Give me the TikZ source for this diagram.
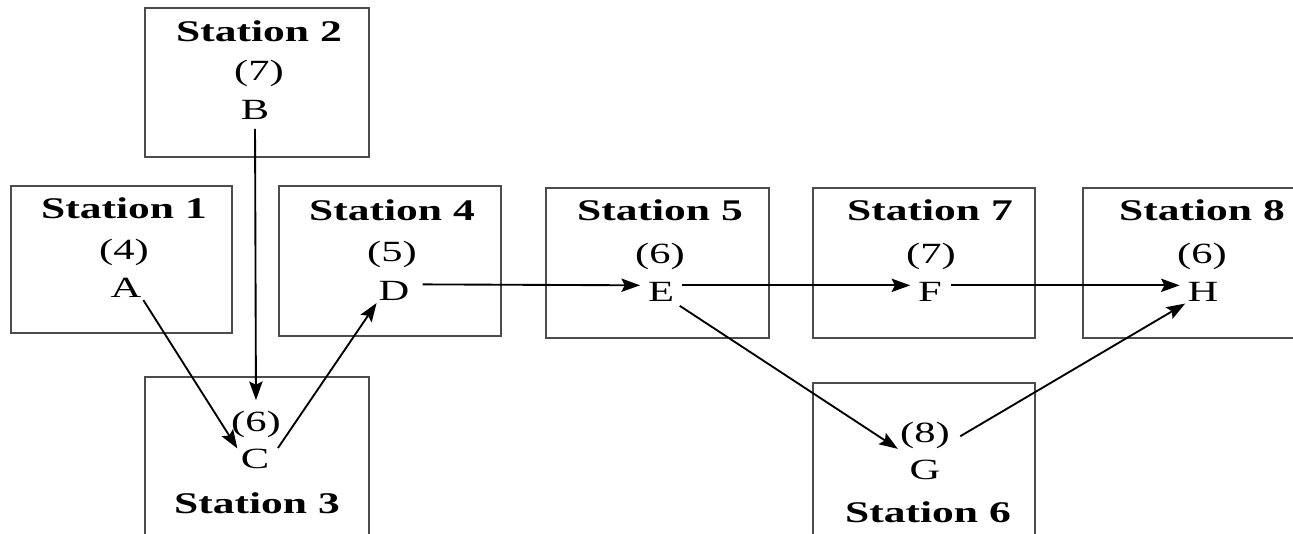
\documentclass[tikz,border=0pt]{standalone}
\usepackage{fontspec}
\setmainfont[FakeStretch=1.45]{Liberation Serif}
\usetikzlibrary{arrows.meta}

\begin{document}
\begin{tikzpicture}[x=0.75pt,y=0.75pt,yscale=-1,xscale=1,
  box/.style={draw=black!70, line width=2pt},
  title/.style={inner sep=0.75pt, font=\fontsize{22.5}{25}\selectfont\bfseries},
  lbl/.style={inner sep=0.75pt, font=\fontsize{22}{24}\selectfont},
  flow/.style={-{Stealth[length=14pt,width=10pt,inset=2.5pt]}, line width=1.4pt}]
\useasboundingbox (0,0) rectangle (1293,533);

%Shape: Rectangle [Station 2]
\draw [box] (145,8) rectangle (369,157);
%Shape: Rectangle [Station 1]
\draw [box] (11,186) rectangle (232,333);
%Shape: Rectangle [Station 4]
\draw [box] (279,186) rectangle (501,336);
%Shape: Rectangle [Station 5]
\draw [box] (546,188) rectangle (769,338);
%Shape: Rectangle [Station 7]
\draw [box] (813,188) rectangle (1035,338);
%Shape: Rectangle [Station 8]
\draw [box] (1083,188) rectangle (1300,338);
%Shape: Rectangle [Station 3]
\draw [box] (145,377) rectangle (369,540);
%Shape: Rectangle [Station 6]
\draw [box] (813,383) rectangle (1035,540);

% Text Node
\node [title] (st2) at (259,31) {Station 2};
\node [lbl] (t2) at (259,73) {(7)};
\node [lbl] (B) at (255,110) {B};
% Text Node
\node [title] (st1) at (124,208) {Station 1};
\node [lbl] (t1) at (124,252) {(4)};
\node [lbl] (A) at (126,288) {A};
% Text Node
\node [title] (st4) at (392,210) {Station 4};
\node [lbl] (t4) at (392,254) {(5)};
\node [lbl] (D) at (394,291) {D};
% Text Node
\node [title] (st5) at (660,210) {Station 5};
\node [lbl] (t5) at (660,256) {(6)};
\node [lbl] (E) at (661,292) {E};
% Text Node
\node [title] (st7) at (930,210) {Station 7};
\node [lbl] (t7) at (931,256) {(7)};
\node [lbl] (F) at (930,292) {F};
% Text Node
\node [title] (st8) at (1202,210) {Station 8};
\node [lbl] (t8) at (1202,256) {(6)};
\node [lbl] (H) at (1203,292) {H};
% Text Node
\node [lbl] (t3) at (256,424) {(6)};
\node [lbl] (C) at (255,459) {C};
\node [title] (st3) at (257,503) {Station 3};
% Text Node
\node [lbl] (t6) at (925,435) {(8)};
\node [lbl] (G) at (925,470) {G};
\node [title] (st6) at (928,512) {Station 6};

%Straight Lines
\draw [flow, shorten <=6pt, shorten >=7pt] (B.south) -- (t3.north);
\draw [flow, shorten <=1pt, shorten >=3pt] (A.south east) -- ([yshift=3pt]C.north west);
\draw [flow, shorten <=10pt, shorten >=1pt] (C.east) -- (D.south west);
\draw [flow, shorten <=9pt, shorten >=5pt] ([yshift=-5pt]D.east) -- ([yshift=-5pt]E.west);
\draw [flow, shorten <=5pt, shorten >=5pt] ([yshift=-5pt]E.east) -- ([yshift=-5pt]F.west);
\draw [flow, shorten <=6pt, shorten >=5pt] ([yshift=-5pt]F.east) -- ([yshift=-5pt]H.west);
\draw [flow, shorten <=4pt, shorten >=1pt] (E.south east) -- (t6.south west);
\draw [flow, shorten <=8pt, shorten >=1pt] ([yshift=5pt]t6.east) -- (H.south west);

\end{tikzpicture}
\end{document}
